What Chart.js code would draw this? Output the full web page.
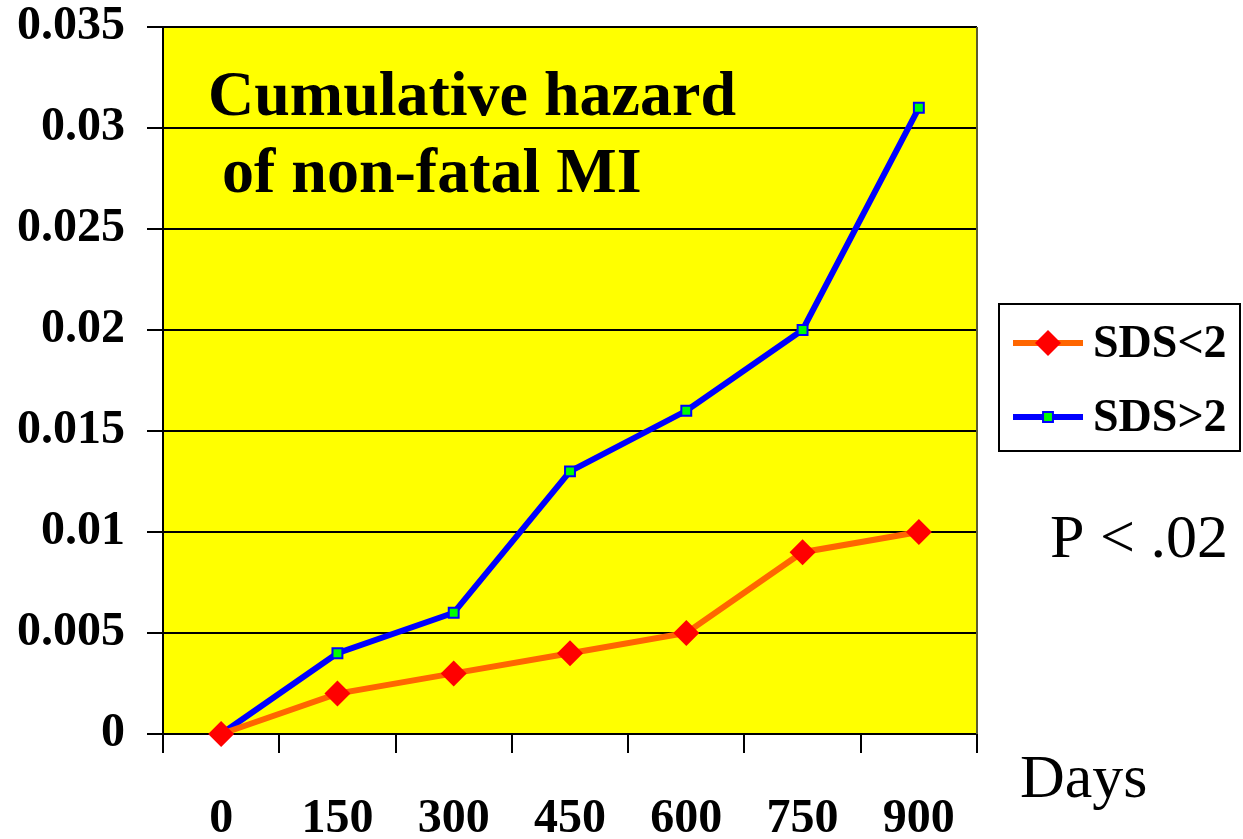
<!DOCTYPE html>
<html>
<head>
<meta charset="utf-8">
<script src="https://cdn.jsdelivr.net/npm/chart.js@4"></script>
<style>
  html, body { margin: 0; padding: 0; background: #fff; }
  #wrap { width: 1243px; height: 839px; }
</style>
</head>
<body>
<div id="wrap"><canvas id="myChart" width="1243" height="839"></canvas></div>
<script>
// Dades llegides del gràfic
const days = ['0', '150', '300', '450', '600', '750', '900'];
const sdsLow = [0, 0.002, 0.003, 0.004, 0.005, 0.009, 0.010];
const sdsHigh = [0, 0.004, 0.006, 0.013, 0.016, 0.020, 0.031];
const yTicks = [0, 0.005, 0.01, 0.015, 0.02, 0.025, 0.03, 0.035];

const serif = '"Liberation Serif", "Times New Roman", serif';

// Fons groc de l'àrea del gràfic i textos
const decor = {
    id: 'decor',
    beforeDatasetsDraw(chart) {
        const { ctx, chartArea: a } = chart;
        ctx.save();
        ctx.strokeStyle = '#5c5c2e';
        ctx.lineWidth = 2;
        ctx.beginPath();
        ctx.moveTo(a.right, a.top);
        ctx.lineTo(a.right, a.bottom);
        ctx.stroke();
        ctx.restore();
    },
    beforeDraw(chart) {
        const { ctx, chartArea: a } = chart;
        ctx.save();
        ctx.fillStyle = '#ffff00';
        ctx.fillRect(a.left, a.top, a.right - a.left, a.bottom - a.top);
        ctx.restore();
    },
    afterDraw(chart) {
        const { ctx } = chart;
        ctx.save();
        ctx.fillStyle = '#000';
        ctx.textBaseline = 'alphabetic';
        ctx.textAlign = 'left';
        ctx.font = 'bold 64px ' + serif;
        ctx.fillText('Cumulative hazard', 208, 115);
        ctx.fillText('of non-fatal MI', 222, 192);
        ctx.font = '62px ' + serif;
        ctx.fillText('P < .02', 1050, 557);
        ctx.fillText('Days', 1020, 797);

        // llegenda
        ctx.fillStyle = '#fff';
        ctx.fillRect(999, 304, 241, 147);
        ctx.strokeStyle = '#000';
        ctx.lineWidth = 2;
        ctx.strokeRect(999, 304, 241, 147);
        chart.data.datasets.forEach((ds, i) => {
            const y = 343 + i * 74;
            ctx.strokeStyle = ds.borderColor;
            ctx.lineWidth = 6;
            ctx.beginPath();
            ctx.moveTo(1013, y);
            ctx.lineTo(1083, y);
            ctx.stroke();
            ctx.fillStyle = ds.pointBackgroundColor;
            ctx.strokeStyle = ds.pointBorderColor;
            ctx.lineWidth = ds.pointBorderWidth;
            Chart.helpers.drawPoint(ctx, { pointStyle: ds.pointStyle, radius: ds.pointRadius, borderWidth: ds.pointBorderWidth, rotation: 0 }, 1048, y);
            ctx.fillStyle = '#000';
            ctx.font = 'bold 46px ' + serif;
            ctx.textBaseline = 'middle';
            ctx.fillText(ds.label, 1093, y + 2);
        });
        ctx.restore();
    }
};

const ctx = document.getElementById('myChart').getContext('2d');
const chart = new Chart(ctx, {
    type: 'line',
    data: {
        labels: days,
        datasets: [{
            label: 'SDS<2',
            data: sdsLow,
            borderColor: '#ff6600',
            borderWidth: 6,
            pointStyle: 'rectRot',
            pointRadius: 13,
            pointBackgroundColor: '#ff0000',
            pointBorderColor: '#ff0000',
            pointBorderWidth: 0,
            tension: 0,
            clip: false
        }, {
            label: 'SDS>2',
            data: sdsHigh,
            borderColor: '#0000ff',
            borderWidth: 6,
            pointStyle: 'rect',
            pointRadius: 7,
            pointBackgroundColor: '#00ff00',
            pointBorderColor: '#0000ff',
            pointBorderWidth: 2,
            tension: 0,
            clip: false
        }]
    },
    options: {
        responsive: false,
        animation: false,
        layout: { padding: { top: 27, right: 266, left: 0, bottom: 0 } },
        plugins: { legend: { display: false }, tooltip: { enabled: false } },
        scales: {
            x: {
                type: 'category',
                offset: true,
                afterFit: (s) => { s.height = 105; s.paddingLeft = 0; s.paddingRight = 0; },
                grid: { offset: true, drawOnChartArea: false, drawTicks: true, tickLength: 19, color: '#000', lineWidth: 2 },
                border: { color: '#000', width: 2 },
                ticks: { color: '#000', padding: 38, font: { family: serif, size: 48, weight: 'bold' } }
            },
            y: {
                min: 0,
                max: 0.035,
                afterFit: (s) => { s.width = 163; s.paddingTop = 0; s.paddingBottom = 0; },
                afterBuildTicks: (s) => { s.ticks = yTicks.map(v => ({ value: v })); },
                grid: { color: '#000', lineWidth: 2, tickLength: 16 },
                border: { color: '#000', width: 2 },
                ticks: {
                    color: '#000', padding: 22,
                    font: { family: serif, size: 48, weight: 'bold' },
                    callback: (v) => String(+v.toFixed(3))
                }
            }
        }
    },
    plugins: [decor]
});
</script>
</body>
</html>
